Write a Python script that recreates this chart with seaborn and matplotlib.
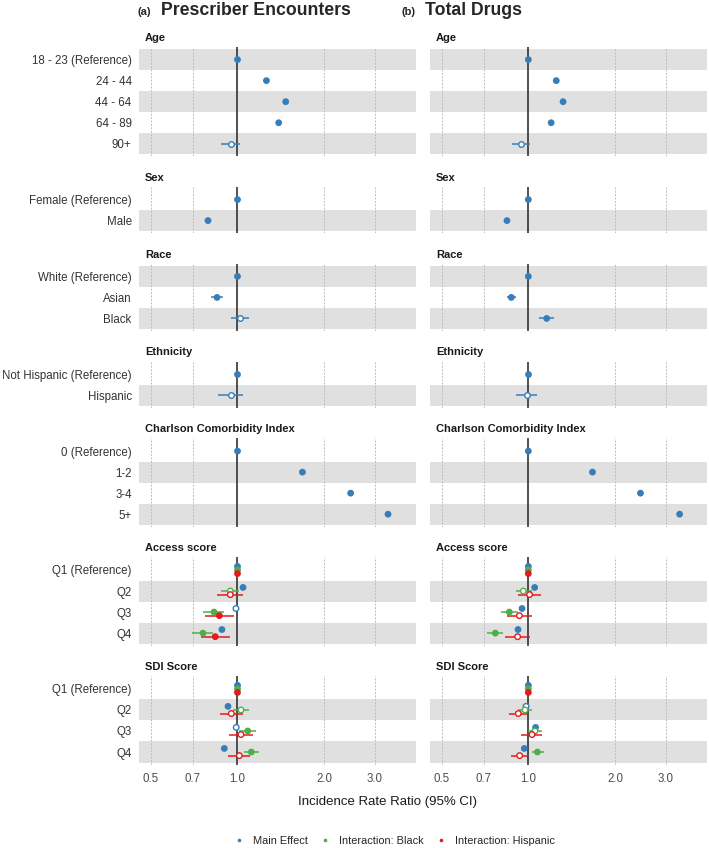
import numpy as np
import pandas as pd
import matplotlib
matplotlib.use("Agg")
import matplotlib.pyplot as plt
from matplotlib.lines import Line2D
from matplotlib.ticker import NullLocator, FixedLocator, FixedFormatter
import seaborn as sns

# ---- data ---------------------------------------------------------------
groups = ["Age", "Sex", "Race", "Ethnicity", "Charlson Comorbidity Index",
          "Access score", "SDI Score"]
age_levels = ["18 - 23 (Reference)", "24 - 44", "44 - 64", "64 - 89", "90+"]
sex_levels = ["Female (Reference)", "Male"]
race_levels = ["White (Reference)", "Asian", "Black"]
eth_levels = ["Not Hispanic (Reference)", "Hispanic"]
cci_levels = ["0 (Reference)", "1-2", "3-4", "5+"]
access_levels = ["Q1 (Reference)", "Q2", "Q3", "Q4"]
sdi_levels = ["Q1 (Reference)", "Q2", "Q3", "Q4"]
group_levels = [age_levels, sex_levels, race_levels, eth_levels,
                cci_levels, access_levels, sdi_levels]
interaction_groups = ["Access score", "SDI Score"]

panel_titles = ["Prescriber Encounters", "Total Drugs"]
panel_tags = ["(a)", "(b)"]
series_names = ["Main Effect", "Interaction: Black", "Interaction: Hispanic"]

# main effects, all 24 rows in order (sig: 1 = filled, 0 = open)
enc_main_est = [1.00, 1.26, 1.47, 1.39, 0.947, 1.00, 0.79, 1.00, 0.849, 1.018, 1.00, 0.947,
                1.00, 1.68, 2.47, 3.33, 1.00, 1.045, 0.988, 0.883, 1.00, 0.927, 0.99, 0.90]
enc_main_lo = [1.00, 1.24, 1.45, 1.37, 0.878, 1.00, 0.78, 1.00, 0.809, 0.949, 1.00, 0.857,
               1.00, 1.66, 2.44, 3.28, 1.00, 1.025, 0.965, 0.862, 1.00, 0.905, 0.968, 0.88]
enc_main_hi = [1.00, 1.28, 1.50, 1.41, 1.02, 1.00, 0.80, 1.00, 0.888, 1.096, 1.00, 1.047,
               1.00, 1.70, 2.50, 3.38, 1.00, 1.068, 1.012, 0.905, 1.00, 0.95, 1.012, 0.92]
enc_main_sig = [1, 1, 1, 1, 0, 1, 1, 1, 1, 0, 1, 0, 1, 1, 1, 1, 1, 1, 0, 1, 1, 1, 0, 1]

drug_main_est = [1.00, 1.25, 1.32, 1.20, 0.946, 1.00, 0.843, 1.00, 0.873, 1.158, 1.00, 0.987,
                 1.00, 1.67, 2.45, 3.35, 1.00, 1.052, 0.951, 0.921, 1.00, 0.982, 1.06, 0.968]
drug_main_lo = [1.00, 1.23, 1.30, 1.18, 0.88, 1.00, 0.83, 1.00, 0.843, 1.092, 1.00, 0.903,
                1.00, 1.65, 2.42, 3.30, 1.00, 1.035, 0.935, 0.905, 1.00, 0.965, 1.045, 0.952]
drug_main_hi = [1.00, 1.27, 1.34, 1.22, 1.016, 1.00, 0.856, 1.00, 0.908, 1.228, 1.00, 1.072,
                1.00, 1.69, 2.48, 3.40, 1.00, 1.07, 0.968, 0.938, 1.00, 1.002, 1.076, 0.985]
drug_main_sig = [1, 1, 1, 1, 0, 1, 1, 1, 1, 1, 1, 0, 1, 1, 1, 1, 1, 1, 1, 1, 1, 0, 1, 1]

# interactions: Access Q1-Q4 then SDI Q1-Q4
enc_black_est = [1.00, 0.944, 0.829, 0.759, 1.00, 1.028, 1.085, 1.117]
enc_black_lo = [1.00, 0.876, 0.761, 0.697, 1.00, 0.962, 1.01, 1.053]
enc_black_hi = [1.00, 1.01, 0.90, 0.82, 1.00, 1.099, 1.16, 1.185]
enc_black_sig = [1, 0, 1, 1, 1, 0, 1, 1]
enc_hisp_est = [1.00, 0.944, 0.865, 0.837, 1.00, 0.952, 1.028, 1.015]
enc_hisp_lo = [1.00, 0.85, 0.77, 0.746, 1.00, 0.869, 0.932, 0.929]
enc_hisp_hi = [1.00, 1.047, 0.975, 0.94, 1.00, 1.047, 1.135, 1.105]
enc_hisp_sig = [1, 0, 1, 1, 1, 0, 0, 0]

drug_black_est = [1.00, 0.961, 0.859, 0.768, 1.00, 0.974, 1.055, 1.075]
drug_black_lo = [1.00, 0.906, 0.804, 0.718, 1.00, 0.923, 1.00, 1.03]
drug_black_hi = [1.00, 1.03, 0.918, 0.819, 1.00, 1.03, 1.116, 1.13]
drug_black_sig = [1, 0, 1, 1, 1, 0, 0, 1]
drug_hisp_est = [1.00, 1.01, 0.931, 0.918, 1.00, 0.923, 1.03, 0.933]
drug_hisp_lo = [1.00, 0.923, 0.841, 0.832, 1.00, 0.854, 0.946, 0.868]
drug_hisp_hi = [1.00, 1.103, 1.03, 1.01, 1.00, 0.998, 1.116, 0.998]
drug_hisp_sig = [1, 0, 0, 0, 1, 0, 0, 0]

x_ticks = [0.5, 0.7, 1.0, 2.0, 3.0]
x_tick_labels = ["0.5", "0.7", "1.0", "2.0", "3.0"]

# ---- long table ---------------------------------------------------------
dodge = {"Main Effect": -0.17, "Interaction: Black": 0.0, "Interaction: Hispanic": 0.17}
records = []
panel_data = [
    (panel_titles[0], (enc_main_est, enc_main_lo, enc_main_hi, enc_main_sig),
     (enc_black_est, enc_black_lo, enc_black_hi, enc_black_sig),
     (enc_hisp_est, enc_hisp_lo, enc_hisp_hi, enc_hisp_sig)),
    (panel_titles[1], (drug_main_est, drug_main_lo, drug_main_hi, drug_main_sig),
     (drug_black_est, drug_black_lo, drug_black_hi, drug_black_sig),
     (drug_hisp_est, drug_hisp_lo, drug_hisp_hi, drug_hisp_sig)),
]
for panel, main, black, hisp in panel_data:
    k = 0
    j = 0
    for g, levels in zip(groups, group_levels):
        inter = g in interaction_groups
        for i, lev in enumerate(levels):
            off = dodge["Main Effect"] if inter else 0.0
            records.append(dict(panel=panel, group=g, level=lev, series="Main Effect",
                                ypos=i + off, est=main[0][k], lo=main[1][k],
                                hi=main[2][k], sig=main[3][k]))
            k += 1
        if inter:
            for name, s in (("Interaction: Black", black), ("Interaction: Hispanic", hisp)):
                for i, lev in enumerate(levels):
                    records.append(dict(panel=panel, group=g, level=lev, series=name,
                                        ypos=i + dodge[name], est=s[0][j + i], lo=s[1][j + i],
                                        hi=s[2][j + i], sig=s[3][j + i]))
            j += len(levels)
df = pd.DataFrame(records)

# ---- plot ---------------------------------------------------------------
sns.set_theme(style="white")
plt.rcParams["font.family"] = ["Liberation Sans", "DejaVu Sans"]

set1 = sns.color_palette("Set1")
pal = {"Main Effect": set1[1], "Interaction: Black": set1[2], "Interaction: Hispanic": set1[0]}

fig = plt.figure(figsize=(7.09, 8.48), dpi=100)
gs = fig.add_gridspec(len(groups), 2, left=0.1956, right=0.9972, top=0.9446, bottom=0.0983,
                      wspace=0.048, hspace=0.40,
                      height_ratios=[len(l) + 0.2 for l in group_levels])

for c, panel in enumerate(panel_titles):
    for r, (g, levels) in enumerate(zip(groups, group_levels)):
        ax = fig.add_subplot(gs[r, c])
        n = len(levels)
        sub = df[(df.panel == panel) & (df.group == g)]
        for i in range(n):
            if (n - 1 - i) % 2 == 0:
                ax.axhspan(i - 0.5, i + 0.5, color="#e0e0e0", lw=0, zorder=0)
        for t in x_ticks:
            if t != 1.0:
                ax.axvline(t, color="#bcbcbc", lw=0.7, ls=(0, (2, 1.5)), zorder=1)
        ax.axvline(1.0, color="#333333", lw=1.2, zorder=2)
        ax.hlines(sub.ypos, sub.lo, sub.hi, colors=list(sub.series.map(pal)), lw=1.1, zorder=3)

        filled = sub[sub.sig == 1]
        sns.scatterplot(data=filled, x="est", y="ypos", hue="series", palette=pal,
                        s=24, linewidth=0, legend=False, ax=ax, zorder=4)
        hollow = sub[sub.sig == 0]
        if len(hollow):
            sns.scatterplot(data=hollow, x="est", y="ypos", hue="series", palette=pal,
                            s=16, linewidth=1.0, legend=False, ax=ax, zorder=5)
            coll = ax.collections[-1]
            coll.set_edgecolors(coll.get_facecolors())
            coll.set_facecolors("white")

        ax.set_xscale("log")
        ax.set_xlim(0.454, 4.17)
        ax.set_ylim(n - 1 + 0.6, -0.6)
        ax.xaxis.set_major_locator(FixedLocator(x_ticks))
        ax.xaxis.set_major_formatter(FixedFormatter(x_tick_labels))
        ax.xaxis.set_minor_locator(NullLocator())
        ax.set_yticks(range(n))
        ax.set_xlabel("")
        ax.set_ylabel("")
        for s in ax.spines.values():
            s.set_visible(False)
        ax.tick_params(axis="both", length=0)
        if c == 0:
            ax.set_yticklabels(levels, fontsize=8.3, color="#333333")
            ax.tick_params(axis="y", pad=5)
        else:
            ax.set_yticklabels([])
        if r == len(groups) - 1:
            ax.tick_params(axis="x", labelsize=8.3, labelcolor="#4d4d4d", pad=6)
        else:
            ax.set_xticklabels([])
        ax.annotate(g, xy=(0, 1), xycoords="axes fraction", xytext=(4.5, 3),
                    textcoords="offset points", ha="left", va="bottom",
                    fontsize=8.0, fontweight="bold", color="#1a1a1a")

# titles
fig.text(137 / 709, 1 - 15 / 848, panel_tags[0], fontsize=8, fontweight="bold", va="baseline")
fig.text(161 / 709, 1 - 15 / 848, panel_titles[0], fontsize=12.7, fontweight="bold", va="baseline")
fig.text(401 / 709, 1 - 15 / 848, panel_tags[1], fontsize=8, fontweight="bold", va="baseline")
fig.text(425 / 709, 1 - 15 / 848, panel_titles[1], fontsize=12.7, fontweight="bold", va="baseline")

fig.text(388 / 709, 1 - 802 / 848, "Incidence Rate Ratio (95% CI)", fontsize=9.5,
         ha="center", va="center", color="#1a1a1a")

handles = [Line2D([], [], marker="o", ls="", color=pal[s], markersize=2.6, markeredgewidth=0)
           for s in series_names]
fig.legend(handles, series_names, loc="center", bbox_to_anchor=(394 / 709, 1 - 840.5 / 848),
           ncol=3, frameon=False, fontsize=7.9, handlelength=1.0, handletextpad=0.8,
           columnspacing=1.05, borderpad=0)

fig.savefig("out.png", dpi=100)
